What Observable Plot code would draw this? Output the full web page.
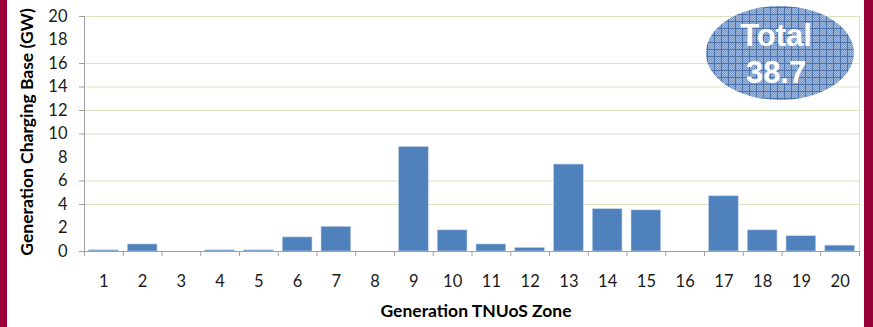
<!DOCTYPE html>
<html>
<head>
<meta charset="utf-8">
<script src="https://cdn.jsdelivr.net/npm/d3@7"></script>
<script src="https://cdn.jsdelivr.net/npm/@observablehq/plot@0.6"></script>
<style>
  html, body { margin: 0; padding: 0; background: #fff; }
  #wrap { width: 857px; height: 327px; border-left: 7px solid #99003a; border-right: 9px solid #99003a; background: #fff; }
  #wrap svg { display: block; }
</style>
</head>
<body>
<div id="wrap"></div>
<script>
// ---- data ----
const zones = [1,2,3,4,5,6,7,8,9,10,11,12,13,14,15,16,17,18,19,20];
const values = [0.1,0.6,0,0.1,0.1,1.2,2.1,0,8.9,1.8,0.6,0.3,7.4,3.6,3.5,0,4.7,1.8,1.3,0.5];
const yTicks = [0,2,4,6,8,10,12,14,16,18,20];
const gridValues = [4,6,10,12,14,16,20];
const xTitle = "Generation TNUoS Zone";
const yTitle = "Generation Charging Base (GW)";
const totalLines = ["Total", "38.7"];

const data = zones.map((z, i) => ({zone: z, value: values[i]}));
const boundaries = [zones[0] - 0.5, ...zones.map(z => z + 0.5)];
const yTickMarks = [0, ...gridValues];

const chart = Plot.plot({
  width: 857,
  height: 327,
  marginLeft: 77,
  marginRight: 5,
  marginTop: 16,
  marginBottom: 76,
  style: {fontFamily: "Lato, 'Open Sans', sans-serif", fontSize: "16px", color: "#000", background: "#fff"},
  x: {domain: [0.5, 20.5]},
  y: {domain: [0, 20]},
  marks: [
    Plot.ruleY(gridValues, {stroke: "#d7e4bd", strokeWidth: 1}),
    Plot.ruleX([boundaries[boundaries.length - 1]], {stroke: "#d7e4bd"}),
    Plot.rectY(data, {x1: d => d.zone - 0.5, x2: d => d.zone + 0.5, y: "value", fill: "#4f81bd", stroke: "#c6d5ea", strokeWidth: 0.6, insetLeft: 4.5, insetRight: 4.5}),
    Plot.ruleX([boundaries[0]], {stroke: "#a0a0a0"}),
    Plot.ruleY([0], {stroke: "#a0a0a0"}),
    Plot.axisY(yTickMarks, {tickSize: 5, tickFormat: () => "", stroke: "#a0a0a0", label: null}),
    Plot.axisY(yTicks, {tickSize: 0, tickPadding: 17, fontSize: 16.5, fill: "#1a1a1a", label: null}),
    Plot.axisX(boundaries, {tickSize: 5, tickFormat: () => "", stroke: "#a0a0a0", label: null}),
    Plot.axisX(zones, {tickSize: 0, tickPadding: 24, fontSize: 16.5, fill: "#1a1a1a", label: null}),
    Plot.text([xTitle], {text: d => d, frameAnchor: "bottom", dy: 65, dx: 4, fontWeight: "bold", fontSize: 17.5, fill: "#000"}),
    Plot.text([yTitle], {text: d => d, frameAnchor: "left", textAnchor: "middle", rotate: -90, dx: -57, dy: -2, fontWeight: "bold", fontSize: 17.5, fill: "#000"})
  ]
});

// ---- "Total" annotation ellipse ----
const sx = chart.scale("x"), sy = chart.scale("y");
const svg = d3.select(chart);
const defs = svg.append("defs");
const pat = defs.append("pattern").attr("id", "hatch").attr("patternUnits", "userSpaceOnUse")
  .attr("width", 7).attr("height", 7);
pat.append("rect").attr("width", 7).attr("height", 7).attr("fill", "#a3badc");
[[1,1],[3,1],[5,1],[2,2],[4,2],[6,2],[1,3],[3,3],[5,3],[2,4],[4,4],[6,4],[1,5],[3,5],[5,5],[2,6],[4,6],[6,6]].forEach(([a,b]) =>
  pat.append("rect").attr("x", a).attr("y", b).attr("width", 1).attr("height", 1).attr("fill", "#7898c8"));
pat.append("rect").attr("x", 0).attr("y", 0).attr("width", 7).attr("height", 1).attr("fill", "#4a73ae");
pat.append("rect").attr("x", 0).attr("y", 0).attr("width", 1).attr("height", 7).attr("fill", "#4a73ae");

const ann = {cx: 18.46, cy: 16.85, tx: 18.36, ty: [17.45, 14.3]};
svg.append("ellipse")
  .attr("cx", sx.apply(ann.cx)).attr("cy", sy.apply(ann.cy))
  .attr("rx", 74).attr("ry", 47)
  .attr("fill", "url(#hatch)");
totalLines.forEach((t, i) => {
  svg.append("text")
    .attr("x", sx.apply(ann.tx)).attr("y", sy.apply(ann.ty[i]))
    .attr("text-anchor", "middle")
    .attr("font-family", "'Liberation Sans', Arial, sans-serif")
    .attr("font-weight", "bold")
    .attr("font-size", 31)
    .attr("fill", "#fff")
    .text(t);
});

document.getElementById("wrap").appendChild(chart);
</script>
</body>
</html>
